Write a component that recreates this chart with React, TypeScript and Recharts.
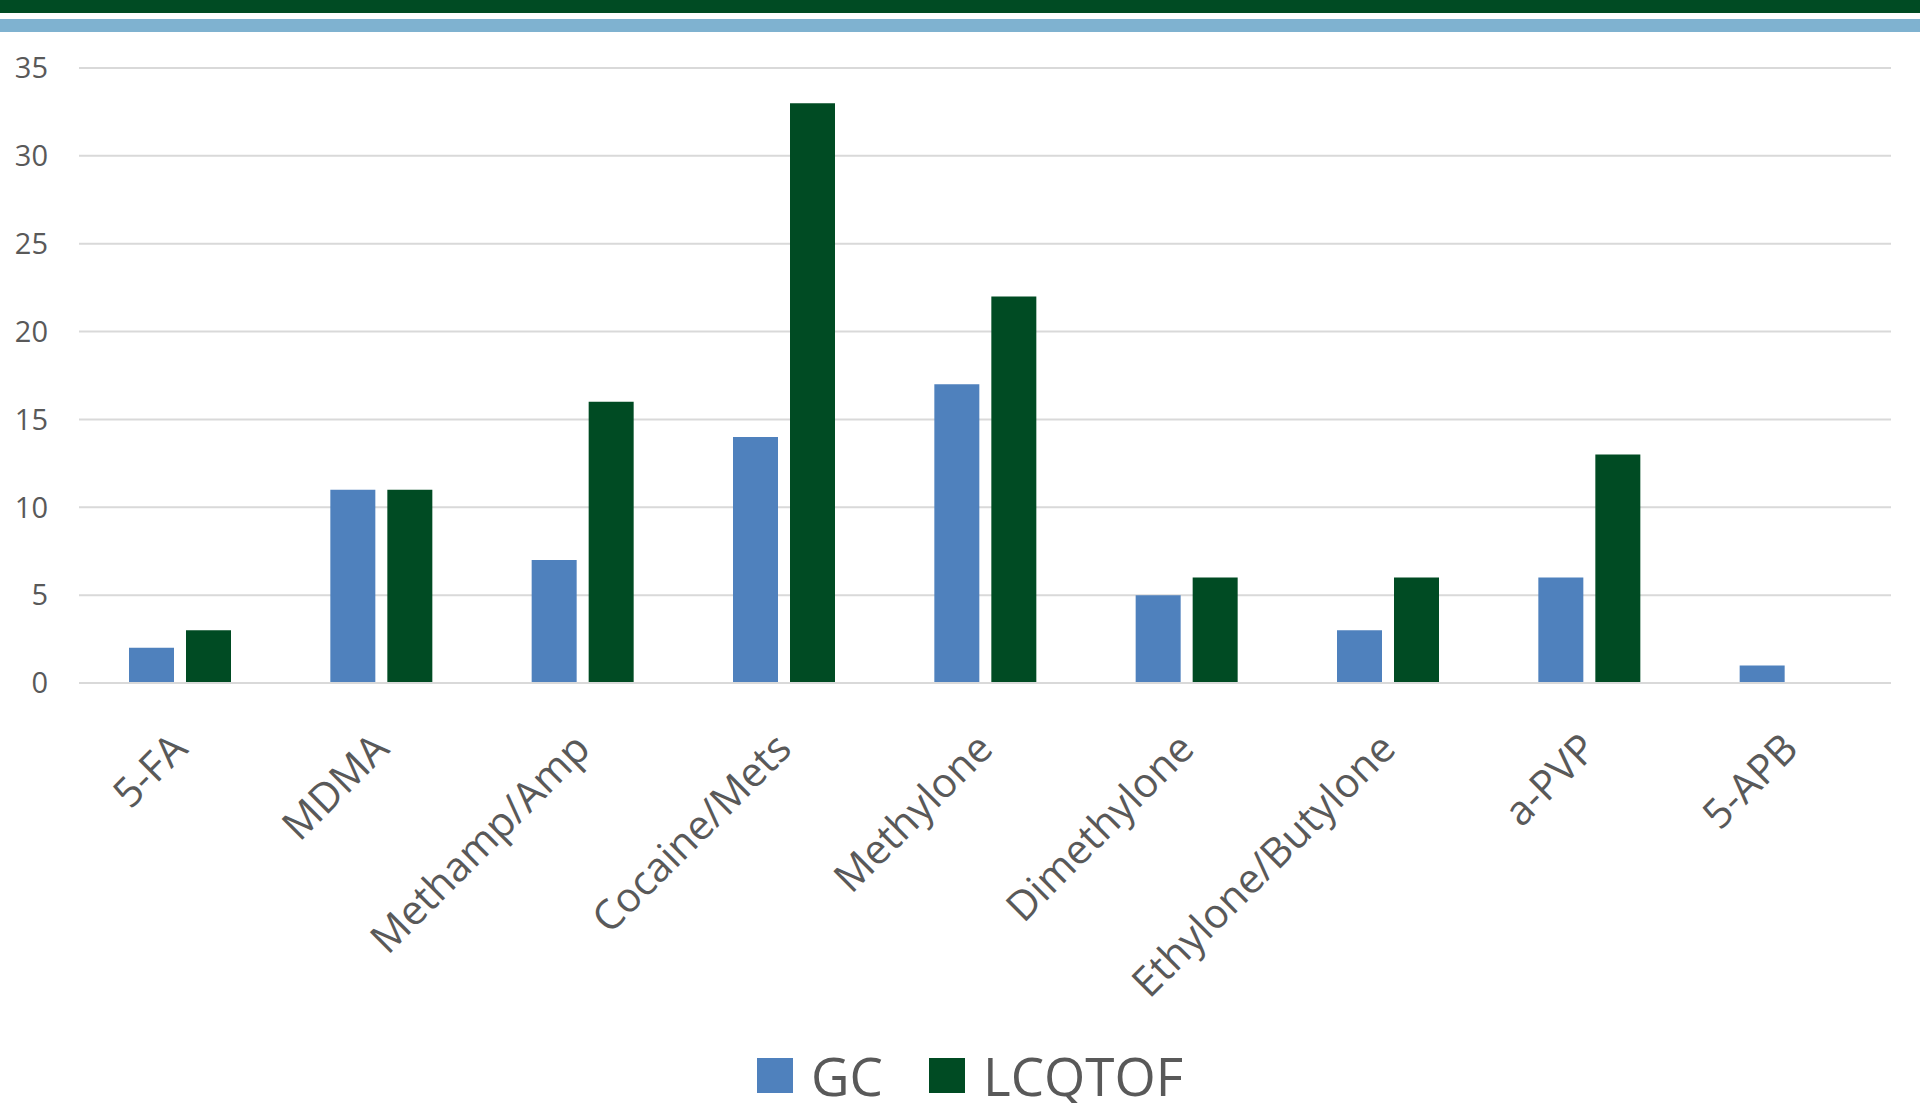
import { BarChart, Bar, XAxis, YAxis, CartesianGrid } from 'recharts';

const categories = [
  '5-FA',
  'MDMA',
  'Methamp/Amp',
  'Cocaine/Mets',
  'Methylone',
  'Dimethylone',
  'Ethylone/Butylone',
  'a-PVP',
  '5-APB',
];
const gcValues = [2, 11, 7, 14, 17, 5, 3, 6, 1];
const lcqtofValues = [3, 11, 16, 33, 22, 6, 6, 13, 0];
const yTicks = [0, 5, 10, 15, 20, 25, 30, 35];

const GC_COLOR = '#4F81BD';
const LC_COLOR = '#004B23';
const TEXT = '#595959';
const FONT = '"Open Sans", sans-serif';

const chartData = categories.map((name, i) => ({
  name,
  GC: gcValues[i],
  LCQTOF: lcqtofValues[i],
}));

function XTick({ x, y, payload }: any) {
  return (
    <g transform={`translate(${x + 10},${y + 60})`}>
      <text
        x={0}
        y={0}
        textAnchor="end"
        transform="rotate(-45)"
        fill={TEXT}
        fontSize={41}
        fontFamily={FONT}
      >
        {payload.value}
      </text>
    </g>
  );
}

const legendItems = [
  { label: 'GC', color: GC_COLOR, left: 757 },
  { label: 'LCQTOF', color: LC_COLOR, left: 929 },
];

export default function App() {
  return (
    <div style={{ position: 'absolute', left: 0, top: 0, width: 1920, height: 1103, background: '#fff', overflow: 'hidden' }}>
      {/* header bands */}
      <div style={{ position: 'absolute', left: 0, top: 0, width: 1920, height: 13, background: LC_COLOR }} />
      <div style={{ position: 'absolute', left: 0, top: 19, width: 1920, height: 13, background: '#7FB2D0' }} />
      <div style={{ position: 'absolute', left: 0, top: 0 }}>
        <BarChart
          width={1920}
          height={1103}
          data={chartData}
          margin={{ top: 68, right: 29, left: 0, bottom: 0 }}
          barSize={45}
          barGap={12}
        >
          <CartesianGrid vertical={false} stroke="#D9D9D9" strokeWidth={2} />
          <XAxis
            dataKey="name"
            axisLine={{ stroke: '#D9D9D9', strokeWidth: 2 }}
            tickLine={false}
            interval={0}
            height={420}
            tick={<XTick />}
          />
          <YAxis
            width={79}
            domain={[0, 35]}
            ticks={yTicks}
            axisLine={false}
            tickLine={false}
            tickSize={0}
            tickMargin={31}
            tick={{ fill: TEXT, fontSize: 29, fontFamily: FONT }}
          />
          <Bar dataKey="GC" fill={GC_COLOR} isAnimationActive={false} />
          <Bar dataKey="LCQTOF" fill={LC_COLOR} isAnimationActive={false} />
        </BarChart>
      </div>
      {/* legend */}
      {legendItems.map((it) => (
        <div
          key={it.label}
          style={{ position: 'absolute', left: it.left, top: 1053, height: 45, display: 'flex', alignItems: 'center' }}
        >
          <span style={{ width: 36, height: 35, background: it.color, display: 'inline-block', marginRight: 18 }} />
          <span style={{ fontSize: 53, color: TEXT, fontFamily: FONT, lineHeight: '45px' }}>{it.label}</span>
        </div>
      ))}
    </div>
  );
}
